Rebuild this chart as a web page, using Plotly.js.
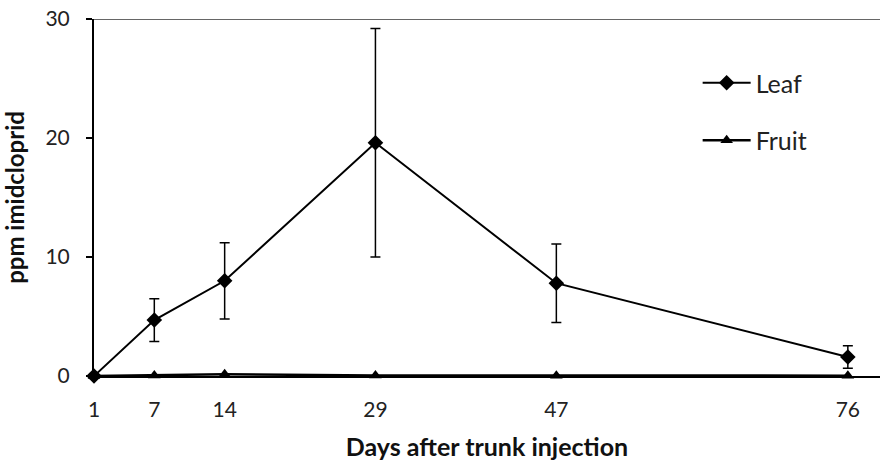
<!DOCTYPE html>
<html>
<head>
<meta charset="utf-8">
<script src="https://cdn.plot.ly/plotly-3.0.1.min.js"></script>
<style>
  html, body { margin: 0; padding: 0; background: #fff; }
  #wykres { width: 883px; height: 461px; }
</style>
</head>
<body>
<div id="wykres"></div>
<script>
// dni po iniekcji (oś x jest liniowa, ticki tylko w punktach pomiaru)
const dni = [1, 7, 14, 29, 47, 76];
const lisc = [0, 4.7, 8.0, 19.6, 7.8, 1.6];
const liscBlad = [0, 1.8, 3.2, 9.6, 3.3, 0.95];
const owoc = [0, 0.05, 0.15, 0.05, 0.03, 0.03];
const zakresY = [0, 30];
const tickiY = [0, 10, 20, 30];

const czcionka = 'Lato, "Open Sans", sans-serif';

const slady = [
  {
    x: dni, y: lisc, name: 'Leaf', mode: 'lines+markers',
    line: { color: '#000', width: 2 },
    marker: { symbol: 'diamond', size: 12, color: '#000' },
    error_y: { type: 'data', array: liscBlad, visible: true, color: '#000', thickness: 1.5, width: 5 },
    cliponaxis: false, legendgroup: 'a',
  },
  {
    x: dni, y: owoc, name: 'Fruit', mode: 'lines+markers',
    line: { color: '#000', width: 2.5 },
    marker: { symbol: 'triangle-up', size: 11, color: '#000' },
    cliponaxis: false, legendgroup: 'b',
  },
];

const uklad = {
  width: 883, height: 461,
  margin: { l: 94, r: 3, t: 19, b: 85 },
  paper_bgcolor: '#fff', plot_bgcolor: '#fff',
  font: { family: czcionka, size: 21, color: '#222' },
  showlegend: true,
  legend: {
    x: 0.768, y: 0.885, xanchor: 'left', yanchor: 'top',
    traceorder: 'grouped', tracegroupgap: 22, itemwidth: 48,
    font: { size: 25, color: '#222' }, bgcolor: 'rgba(0,0,0,0)',
  },
  xaxis: {
    range: [1, 79.2], tickvals: dni, ticks: '', showgrid: false, zeroline: false,
    showline: true, linecolor: '#000', linewidth: 2,
    ticklabelstandoff: 14,
    title: { text: 'Days after trunk injection', font: { size: 25, family: czcionka, weight: 'bold', color: '#111' }, standoff: 18 },
  },
  yaxis: {
    range: zakresY, tickvals: tickiY, ticks: 'outside', ticklen: 6, tickcolor: '#000', tickwidth: 1.5,
    showgrid: false, zeroline: false, showline: true, linecolor: '#000', linewidth: 2,
    ticklabelstandoff: 12,
    title: { text: 'ppm imidcloprid', font: { size: 24, family: czcionka, weight: 'bold', color: '#111' }, standoff: 14 },
  },
  shapes: [
    { type: 'line', xref: 'paper', x0: 0, x1: 1, yref: 'y', y0: 30, y1: 30, line: { color: '#333', width: 1.5 } },
  ],
};

Plotly.newPlot('wykres', slady, uklad, { displayModeBar: false, staticPlot: true });
</script>
</body>
</html>
